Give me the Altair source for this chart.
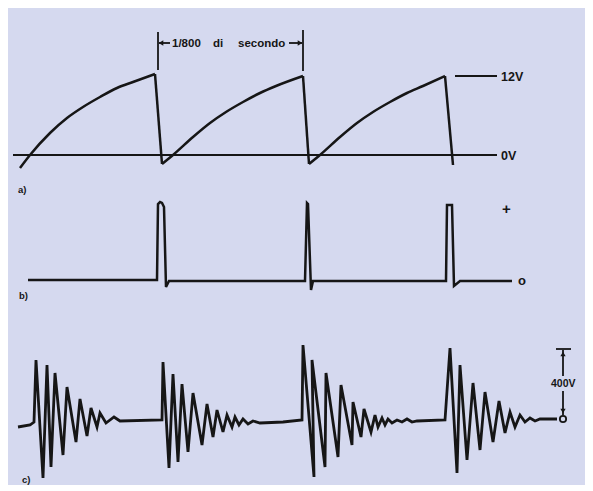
import altair as alt
import pandas as pd

# ---- drawing units: x to the right, y downward (page-like units) ----
# a) sawtooth voltage: three charging ramps ...
ramp1_x = [20, 30, 50, 67, 83, 100, 117, 133, 155]
ramp1_y = [168, 155, 133, 118, 107, 97, 88, 82, 74]
ramp2_x = [162, 173, 193, 210, 226, 243, 260, 276, 303]
ramp2_y = [164, 155, 137, 123, 112, 102, 93, 86, 76]
ramp3_x = [309, 320, 340, 357, 373, 390, 407, 423, 445]
ramp3_y = [164, 155, 137, 123, 112, 102, 93, 86, 76]
# ... and the sudden discharges
drop_x = [[155, 162], [303, 309], [445, 453]]
drop_y = [[74, 164], [76, 164], [76, 165]]

# reference levels of a)
zero_a_x = [13, 497]
zero_a_y = [155, 155]
level12_x = [455, 497]
level12_y = [76, 76]

# time marker (1/800 s)
mark1_x = [158, 158]
mark1_y = [32, 70]
mark2_x = [303, 303]
mark2_y = [30, 71]
arrowL_x = [159, 170]
arrowL_y = [43, 43]
arrowR_x = [289, 302]
arrowR_y = [43, 43]

# b) trigger pulses
pulse_x = [28, 157, 158, 160, 162, 164, 166, 169, 305, 307, 308, 311, 313,
           446, 447, 452, 454, 460, 512]
pulse_y = [280, 280, 204, 202, 203, 207, 287, 281, 281, 203, 204, 290, 281,
           281, 205, 205, 286, 281, 281]

# c) damped ringing (high voltage)
ring_x = [18, 30, 34, 36, 43, 47, 51, 55, 63, 67, 76, 80, 87, 91, 97, 100, 106, 114, 120,
          162, 163, 169, 173, 178, 182, 188, 193, 202, 207, 213, 217, 223, 227, 232, 235,
          239, 243, 248, 253, 260, 283, 302,
          303, 314, 312, 325, 326, 338, 341, 352, 353, 361, 364, 371, 375, 378, 382, 385,
          388, 392, 397, 402, 407, 412, 417, 445,
          450, 457, 460, 467, 473, 480, 485, 493, 499, 505, 510, 515, 520, 525, 530, 535,
          540, 557]
ring_y = [427, 425, 422, 360, 478, 365, 467, 373, 455, 387, 442, 399, 436, 408, 427, 413, 423, 417, 421,
          420, 362, 468, 374, 462, 384, 452, 393, 445, 404, 437, 410, 432, 415, 427, 417,
          425, 419, 424, 421, 423, 422, 420,
          345, 477, 360, 467, 373, 457, 385, 445, 402, 437, 409, 432, 415, 427, 418, 425,
          419, 423, 420, 422, 419, 422, 421, 420,
          348, 473, 365, 460, 383, 450, 392, 442, 401, 433, 412, 427, 415, 422, 418, 421,
          419, 419]

# 400V scale bracket
brk_top_x = [556, 571]
brk_top_y = [349, 349]
brk_up_x = [563, 563]
brk_up_y = [350, 376]
brk_dn_x = [563, 563]
brk_dn_y = [391, 415]

# labels
lab_text = ["1/800", "di", "secondo", "12V", "0V", "a)", "+", "o", "b)", "400V", "c)"]
lab_x = [172, 213, 238, 501, 501, 18, 502, 518, 19, 551, 22]
lab_y = [44, 44, 44, 77, 156, 190, 209, 281, 296, 384, 480]
lab_size = [11.5, 11.5, 11.5, 12.5, 12.5, 9.5, 15, 13, 9.5, 10.5, 9.5]


def trace(name, xs, ys):
    return pd.DataFrame({"trace": name, "i": list(range(len(xs))), "x": xs, "y": ys})


curves = pd.concat([
    trace("r1", ramp1_x, ramp1_y),
    trace("r2", ramp2_x, ramp2_y),
    trace("r3", ramp3_x, ramp3_y),
])
thick = pd.concat(
    [trace(f"d{k}", dx, dy) for k, (dx, dy) in enumerate(zip(drop_x, drop_y))] + [
        trace("pulse", pulse_x, pulse_y),
    ])
ring = trace("ring", ring_x, ring_y)
thin = pd.concat([
    trace("zero_a", zero_a_x, zero_a_y),
    trace("lvl12", level12_x, level12_y),
    trace("m1", mark1_x, mark1_y),
    trace("m2", mark2_x, mark2_y),
    trace("aL", arrowL_x, arrowL_y),
    trace("aR", arrowR_x, arrowR_y),
    trace("bt", brk_top_x, brk_top_y),
    trace("bu", brk_up_x, brk_up_y),
    trace("bd", brk_dn_x, brk_dn_y),
])
heads = pd.DataFrame({
    "x": [arrowL_x[0] + 2, arrowR_x[1] - 2, brk_up_x[0], brk_dn_x[0]],
    "y": [arrowL_y[0], arrowR_y[0], brk_up_y[0] + 4, brk_dn_y[1] - 4],
    "shape": ["triangle-left", "triangle-right", "triangle-up", "triangle-down"],
})
circ = pd.DataFrame({"x": [563], "y": [419]})
labels = pd.DataFrame({"t": lab_text, "x": lab_x, "y": lab_y, "fs": lab_size})

INK = "#161616"
X = alt.X("x:Q", scale=alt.Scale(domain=[8, 585], nice=False, zero=False), axis=None)
Y = alt.Y("y:Q", scale=alt.Scale(domain=[8, 483], reverse=True, nice=False, zero=False), axis=None)

curve_l = alt.Chart(curves).mark_line(color=INK, strokeWidth=2.5, interpolate="monotone").encode(
    x=X, y=Y, detail="trace:N", order="i:Q")
thick_l = alt.Chart(thick).mark_line(color=INK, strokeWidth=2.5, strokeJoin="miter",
                                      strokeMiterLimit=4).encode(
    x=X, y=Y, detail="trace:N", order="i:Q")
ring_l = alt.Chart(ring).mark_line(color=INK, strokeWidth=2.8, strokeJoin="miter",
                                    strokeMiterLimit=4).encode(
    x=X, y=Y, detail="trace:N", order="i:Q")
thin_l = alt.Chart(thin).mark_line(color=INK, strokeWidth=1.8).encode(
    x=X, y=Y, detail="trace:N", order="i:Q")
head_l = alt.Chart(heads).mark_point(filled=True, color=INK, size=28, opacity=1).encode(
    x=X, y=Y, shape=alt.Shape("shape:N", scale=None))
circ_l = alt.Chart(circ).mark_point(shape="circle", filled=False, color=INK, size=40,
                                     strokeWidth=1.8, opacity=1).encode(x=X, y=Y)
text_l = alt.Chart(labels).mark_text(align="left", baseline="middle", font="Liberation Sans",
                                      fontWeight="bold", color=INK).encode(
    x=X, y=Y, text="t:N", size=alt.Size("fs:Q", scale=None))

chart = alt.layer(thin_l, curve_l, thick_l, ring_l, head_l, circ_l, text_l).properties(
    width=577, height=475, padding=0, background="#d5d9ef"
).configure_view(stroke=None)

chart.save("out.html", embed_options={"renderer": "svg", "actions": False})
